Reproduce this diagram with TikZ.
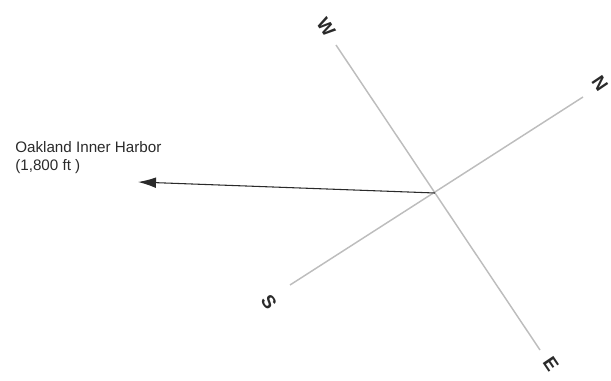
\documentclass[tikz,border=0pt]{standalone}
\usepackage{fontspec}
\setmainfont{Liberation Sans}
\usepackage{xcolor}
\usetikzlibrary{arrows.meta}
\definecolor{axisgray}{HTML}{BDBDBD}
\definecolor{inkgray}{HTML}{2A2A2A}

\begin{document}
\begin{tikzpicture}[
  x=0.75pt, y=-0.75pt,
  axis/.style={draw=axisgray, line width=1.1pt},
  dirlabel/.style={font=\fontsize{14}{15}\selectfont\bfseries, text=inkgray, rotate=-56, inner sep=0pt},
  harborlabel/.style={font=\fontsize{11.4}{13.5}\selectfont, text=inkgray, align=left, anchor=north west, inner sep=0pt},
  arr/.style={-{Latex[length=13.5pt, width=8pt]}, draw=inkgray, line width=0.8pt}
]
\useasboundingbox (0,0) rectangle (611,381);

% compass rose, turned
\coordinate (c) at (435,193);
\coordinate (wEnd) at (336,45);
\coordinate (eEnd) at (540,350);
\coordinate (nEnd) at (583,97);
\coordinate (sEnd) at (290,285);
\draw[axis] (wEnd) -- (eEnd);
\draw[axis] (sEnd) -- (nEnd);

\node[dirlabel] (w) at (326,27) {W};
\node[dirlabel] (n) at (600,83) {N};
\node[dirlabel] (s) at (269,302) {S};
\node[dirlabel] (e) at (551,364) {E};

% direction to the harbor
\node[harborlabel] (harbor) at (15,141) {Oakland Inner Harbor\\(1,800 ft )};
\coordinate (harborTip) at (138,182);
\draw[arr] (c) -- (harborTip);

\end{tikzpicture}
\end{document}
